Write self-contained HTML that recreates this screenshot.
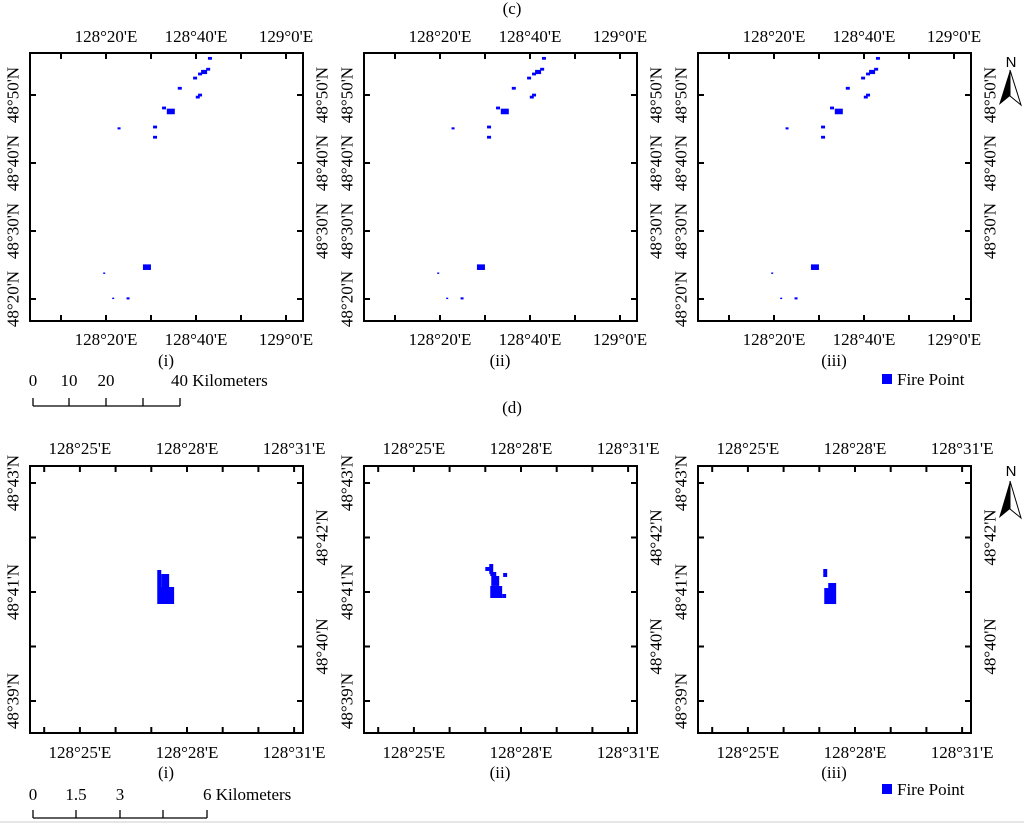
<!DOCTYPE html>
<html><head><meta charset="utf-8"><style>
body{margin:0;background:#fff}
svg{display:block;font-family:"Liberation Serif",serif}
</style></head><body>
<svg id="fig" width="1024" height="825" viewBox="0 0 1024 825"></svg>
<script>
// ---- data ----
const panelOffsets = [0, 334, 668];
const panelLabels = ["(i)", "(ii)", "(iii)"];
// Top (c): fire-point blobs (lon minutes past 128°, lat minutes past 48°, size)
const cFireLon = [43.1, 42.7, 41.8, 40.9, 39.8, 36.4, 40.9, 40.4, 32.9, 34.4, 22.9, 30.9, 30.9, 29.1, 19.6, 21.6, 24.9];
const cFireLat = [55.4, 53.8, 53.4, 53.1, 52.5, 51.0, 50.0, 49.7, 48.1, 47.6, 45.1, 45.3, 43.8, 24.7, 23.8, 20.1, 20.1];
const cFireSize = [2, 2, 3, 2, 2, 2, 2, 2, 2, 4, 1.5, 2, 2, 4, 1, 1, 1.5];
const cLonTicks = [10, 20, 30, 40, 50, 60];
const cLonLabels = {20: "128°20'E", 40: "128°40'E", 60: "129°0'E"};
const cLatTicks = [50, 40, 30, 20];
const cLatLabels = ["48°50'N", "48°40'N", "48°30'N", "48°20'N"];
// Bottom (d): fire cells [lon, latTop, dLon, dLat] in minutes
const dFireCells = [
  [[27.167,41.404,0.111,0.312],[27.278,41.330,0.222,0.477],[27.167,41.092,0.472,0.312]],
  [[27.0,41.459,0.139,0.073],[27.111,41.514,0.111,0.183],[27.139,41.367,0.167,0.073],[27.5,41.349,0.111,0.073],[27.167,41.294,0.222,0.183],[27.139,41.110,0.333,0.220],[27.472,40.963,0.111,0.073]],
  [[27.111,41.422,0.111,0.147],[27.25,41.165,0.222,0.092],[27.139,41.073,0.333,0.294]]
];
const dLonTicks = [24, 25, 26, 27, 28, 29, 30, 31];
const dLonLabels = {25: "128°25'E", 28: "128°28'E", 31: "128°31'E"};
const dLatTicks = [43, 42, 41, 40, 39];
const dLatLabels = ["48°43'N", "48°42'N", "48°41'N", "48°40'N", "48°39'N"];

const NS = "http://www.w3.org/2000/svg";
const svg = document.getElementById('fig');
function mk(tag, attrs, parent, text){
  const e = document.createElementNS(NS, tag);
  for (const k in attrs) e.setAttribute(k, attrs[k]);
  if (text !== undefined) e.textContent = text;
  (parent || svg).appendChild(e);
  return e;
}
// axis functions
const cx = (m, off) => off + 106 + (m - 20) * 4.5;
const cy = m => 95 + (50 - m) * 6.8;
const dx = (m, off) => off + 187 + (m - 28) * 35.7;
const dy = m => 592 + (41 - m) * 54.5;

function titleText(x, y, t, name){
  const e = mk('text', {x:x, y:y, 'font-size':17, 'text-anchor':'middle', fill:'#000'}, svg, t);
  
  
}
titleText(512, 14, "(c)", "section-title-c");
titleText(512, 413, "(d)", "section-title-d");

function panel(off, top, bottom, xs, xf, yf, lonTicks, lonLabels, latTicks, latLabels, topLblY, botLblY, sub, idx, sec){
  const g = mk('g', {});
  
  
  const L = off + 30, R = off + 303;
  const frame = mk('rect', {x:L, y:top, width:R-L, height:bottom-top, fill:'none', stroke:'#000', 'stroke-width':2}, g);
  
  
  lonTicks.forEach(m => {
    const x = xf(m, off);
    const t1 = mk('line', {x1:x, x2:x, y1:top, y2:top+6, stroke:'#000', 'stroke-width':2}, g);
    
    
    const t2 = mk('line', {x1:x, x2:x, y1:bottom, y2:bottom-6, stroke:'#000', 'stroke-width':2}, g);
    
    
    if (lonLabels[m]) {
      const a = mk('text', {x:x, y:topLblY, 'font-size':17, 'text-anchor':'middle'}, g, lonLabels[m]);
      
      
      const b = mk('text', {x:x, y:botLblY, 'font-size':17, 'text-anchor':'middle'}, g, lonLabels[m]);
      
      
    }
  });
  latTicks.forEach((m, i) => {
    const y = yf(m);
    const t1 = mk('line', {x1:L, x2:L+6, y1:y, y2:y, stroke:'#000', 'stroke-width':2}, g);
    
    
    const t2 = mk('line', {x1:R, x2:R-6, y1:y, y2:y, stroke:'#000', 'stroke-width':2}, g);
    
    
    const lbl = latLabels[i];
    const showLeft = (sec === 'c') ? true : (i % 2 === 0);
    const showRight = (sec === 'c') ? (i < 3) : (i % 2 === 1);
    if (showLeft) {
      const a = mk('text', {x:off+13, y:y, 'font-size':17, 'text-anchor':'middle', 'dominant-baseline':'central', transform:`rotate(-90 ${off+13} ${y})`}, g, lbl);
      
      
    }
    if (showRight) {
      const a = mk('text', {x:off+322, y:y, 'font-size':17, 'text-anchor':'middle', 'dominant-baseline':'central', transform:`rotate(-90 ${off+322} ${y})`}, g, lbl);
      
      
    }
  });
  const s = mk('text', {x:off+166, y:sub, 'font-size':17, 'text-anchor':'middle'}, g, panelLabels[idx]);
  
  
  return g;
}

panelOffsets.forEach((off, i) => {
  const g = panel(off, 53, 321, 0, cx, cy, cLonTicks, cLonLabels, cLatTicks, cLatLabels, 42, 345, 366, i, 'c');
  cFireLon.forEach((lon, k) => {
    const sz = cFireSize[k];
    const r = mk('rect', {x:cx(lon, off)-sz, y:cy(cFireLat[k])-sz/1.5, width:sz*2, height:sz*1.4, fill:'#0000ff'}, g);
    
    
  });
  const g2 = panel(off, 466, 733, 0, dx, dy, dLonTicks, dLonLabels, dLatTicks, dLatLabels, 454, 758, 778, i, 'd');
  dFireCells[i].forEach(c => {
    const x0 = dx(c[0], off), x1 = dx(c[0]+c[2], off), y0 = dy(c[1]), y1 = dy(c[1]-c[3]);
    const r = mk('rect', {x:x0, y:y0, width:x1-x0, height:y1-y0, fill:'#0000ff'}, g2);
    
    
  });
});

function scaleBar(y, barY, xs, labels, unitX, unitText, name){
  const g = mk('g', {});
  
  
  mk('line', {x1:xs[0], x2:xs[xs.length-1], y1:barY, y2:barY, stroke:'#000', 'stroke-width':1.3}, g);
  xs.forEach(x => mk('line', {x1:x, x2:x, y1:barY-8, y2:barY, stroke:'#000', 'stroke-width':1.3}, g));
  labels.forEach((l, i) => { if (l) mk('text', {x:xs[i], y:y, 'font-size':17, 'text-anchor':'middle'}, g, l); });
  mk('text', {x:unitX, y:y, 'font-size':17}, g, unitText);
}
scaleBar(386, 406, [33,69,106,143,180], ["0","10","20","",""], 171, "40 Kilometers", 'scale-bar-c');
scaleBar(800, 818, [33,76,120,163,207], ["0","1.5","3","",""], 203, "6 Kilometers", 'scale-bar-d');

function legend(y, name){
  const g = mk('g', {});
  
  
  mk('rect', {x:882, y:y-11, width:10, height:10, fill:'#0000ff'}, g);
  mk('text', {x:897, y:y, 'font-size':17}, g, "Fire Point");
}
legend(385, 'legend-fire-point-c');
legend(795, 'legend-fire-point-d');

function north(ny, ty, by, name){
  const g = mk('g', {});
  
  
  mk('text', {x:1011, y:ny, 'font-size':15, 'text-anchor':'middle', 'font-family':'Liberation Sans, sans-serif'}, g, "N");
  mk('polygon', {points:`1010,${ty} 999,${by} 1010,${by-9}`, fill:'#000'}, g);
  mk('polygon', {points:`1010,${ty} 1021,${by} 1010,${by-9}`, fill:'#fff', stroke:'#000', 'stroke-width':1}, g);
}
north(67, 70, 105, 'north-arrow-c');
north(476, 481, 518, 'north-arrow-d');
mk('line', {x1:0, x2:1024, y1:822, y2:822, stroke:'#ccc', 'stroke-width':1});
</script>
</body></html>
